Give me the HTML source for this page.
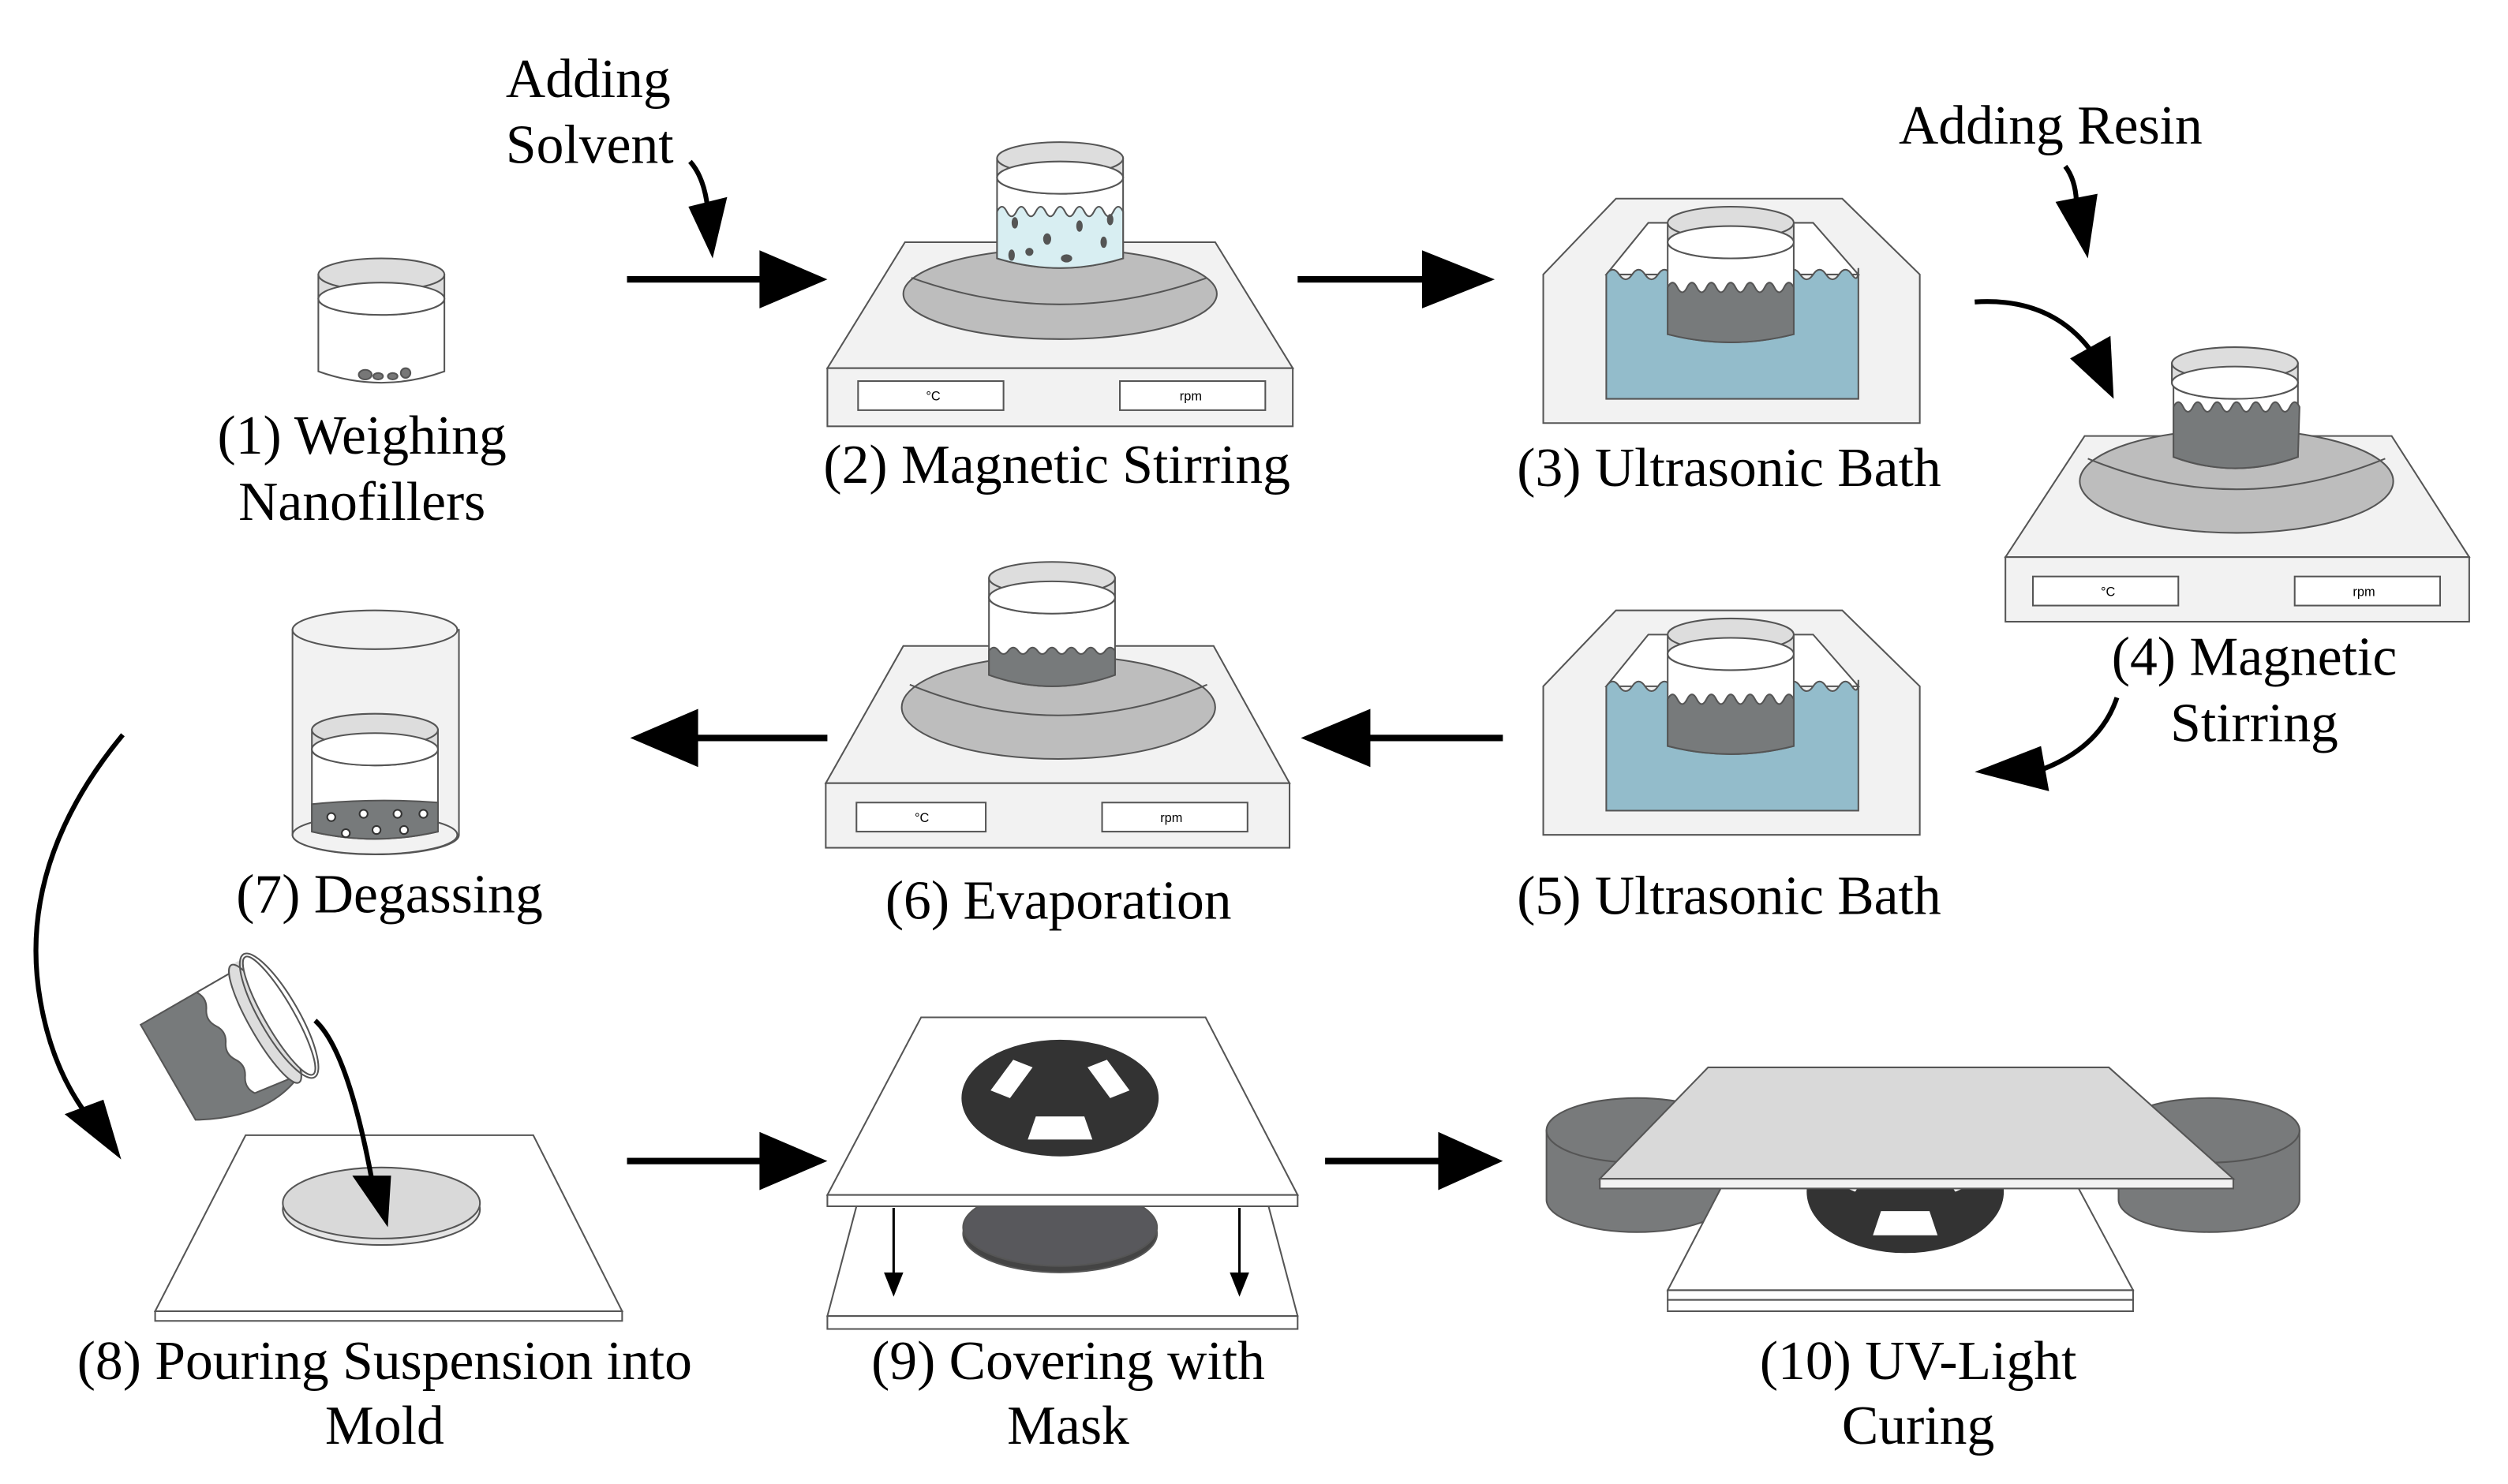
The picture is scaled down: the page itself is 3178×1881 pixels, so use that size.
<!DOCTYPE html>
<html><head><meta charset="utf-8"><style>
html,body{margin:0;padding:0;background:#fff;}
svg{display:block;}
text{font-family:"Liberation Serif",serif;font-size:34px;fill:#000;}
</style></head><body>
<svg width="3178" height="1881" viewBox="0 0 1552 919" preserveAspectRatio="none" xmlns="http://www.w3.org/2000/svg">
<defs>
<g id="mask">
<ellipse cx="0" cy="0" rx="61" ry="38" fill="#333"/>
<polygon points="-43,-5 -29,-25 -17,-20 -31,0" fill="#fff"/>
<polygon points="43,-5 29,-25 17,-20 31,0" fill="#fff"/>
<polygon points="-15,12 15,12 20,27 -20,27" fill="#fff"/>
</g>
</defs>
<g stroke="#555" stroke-width="1">

<!-- (1) beaker -->
<path d="M197,185 L197,230 Q236,244 275,230 L275,185 Z" fill="#fff"/>
<path d="M197,170 L197,185 A39,10 0 0 0 275,185 L275,170 Z" fill="#ddd"/>
<ellipse cx="236" cy="170" rx="39" ry="10" fill="#ddd"/>
<ellipse cx="236" cy="185" rx="39" ry="10" fill="#fff"/>
<g fill="#777"><ellipse cx="226" cy="232" rx="4" ry="3"/><ellipse cx="234" cy="233" rx="3" ry="2"/><ellipse cx="243" cy="233" rx="3" ry="2"/><ellipse cx="251" cy="231" rx="3" ry="3"/></g>

<!-- (2) hotplate -->
<polygon points="560,150 752,150 800,228 512,228" fill="#f2f2f2"/>
<rect x="512" y="228" width="288" height="36" fill="#f2f2f2"/>
<rect x="531" y="236" width="90" height="18" fill="#fff"/>
<rect x="693" y="236" width="90" height="18" fill="#fff"/>
<ellipse cx="656" cy="182" rx="97" ry="28" fill="#bdbdbd"/>
<path d="M564,172 Q656,205 747,172" fill="none"/>
<path d="M617,110 L617,160 Q656,172 695,160 L695,110 Z" fill="#fff"/>
<path d="M617,131 q3,-6 6,0 t6,0 t6,0 t6,0 t6,0 t6,0 t6,0 t6,0 t6,0 t6,0 t6,0 t6,0 t6,0 L695,160 Q656,172 617,160 Z" fill="#d8eef2"/>
<path d="M617,98 L617,110 A39,10 0 0 0 695,110 L695,98 Z" fill="#ddd"/>
<ellipse cx="656" cy="98" rx="39" ry="10" fill="#ddd"/>
<ellipse cx="656" cy="110" rx="39" ry="10" fill="#fff"/>
<g fill="#555"><ellipse cx="628" cy="138" rx="1.5" ry="3"/><ellipse cx="648" cy="148" rx="2" ry="3"/><ellipse cx="668" cy="140" rx="1.5" ry="3"/><ellipse cx="637" cy="156" rx="2" ry="2"/><ellipse cx="660" cy="160" rx="3" ry="2"/><ellipse cx="683" cy="150" rx="1.5" ry="3"/><ellipse cx="687" cy="136" rx="1.5" ry="3"/><ellipse cx="626" cy="158" rx="1.5" ry="3"/></g>

<!-- (3) bath -->
<g id="bath">
<polygon points="1000,123 1140,123 1188,170 1188,262 955,262 955,170" fill="#f2f2f2"/>
<polygon points="1020,138 1122,138 1150,170 994,170" fill="#fff"/>
<path d="M994,170 q4,-6 8,0 t8,0 t8,0 t8,0 t8,0 t8,0 t8,0 t8,0 t8,0 t8,0 t8,0 t8,0 t8,0 t8,0 t8,0 t8,0 t8,0 t8,0 t8,0 t4,-4 L1150,247 L994,247 Z" fill="#93bccb"/>
<path d="M1032,150 L1032,207 Q1071,217 1110,207 L1110,150 Z" fill="#fff"/>
<path d="M1032,178 q3,-6 6,0 t6,0 t6,0 t6,0 t6,0 t6,0 t6,0 t6,0 t6,0 t6,0 t6,0 t6,0 t6,0 L1110,207 Q1071,217 1032,207 Z" fill="#777a7b"/>
<path d="M1032,138 L1032,150 A39,10 0 0 0 1110,150 L1110,138 Z" fill="#ddd"/>
<ellipse cx="1071" cy="138" rx="39" ry="10" fill="#ddd"/>
<ellipse cx="1071" cy="150" rx="39" ry="10" fill="#fff"/>
</g>

<!-- (4) hotplate -->
<polygon points="1290,270 1480,270 1528,345 1241,345" fill="#f2f2f2"/>
<rect x="1241" y="345" width="287" height="40" fill="#f2f2f2"/>
<rect x="1258" y="357" width="90" height="18" fill="#fff"/>
<rect x="1420" y="357" width="90" height="18" fill="#fff"/>
<ellipse cx="1384" cy="298" rx="97" ry="32" fill="#bdbdbd"/>
<path d="M1292,284 Q1384,322 1476,284" fill="none"/>
<path d="M1345,237 L1345,283 Q1383,297 1422,283 L1422,237 Z" fill="#fff"/>
<path d="M1345,252 q3,-6 6,0 t6,0 t6,0 t6,0 t6,0 t6,0 t6,0 t6,0 t6,0 t6,0 t6,0 t6,0 t6,0 L1422,283 Q1383,297 1345,283 Z" fill="#777a7b"/>
<path d="M1344,225 L1344,237 A39,10 0 0 0 1422,237 L1422,225 Z" fill="#ddd"/>
<ellipse cx="1383" cy="225" rx="39" ry="10" fill="#ddd"/>
<ellipse cx="1383" cy="237" rx="39" ry="10" fill="#fff"/>

<!-- (5) bath -->
<use href="#bath" transform="translate(0,255)"/>

<!-- (6) hotplate -->
<polygon points="559,400 751,400 798,485 511,485" fill="#f2f2f2"/>
<rect x="511" y="485" width="287" height="40" fill="#f2f2f2"/>
<rect x="530" y="497" width="80" height="18" fill="#fff"/>
<rect x="682" y="497" width="90" height="18" fill="#fff"/>
<ellipse cx="655" cy="438" rx="97" ry="32" fill="#bdbdbd"/>
<path d="M563,424 Q655,462 747,424" fill="none"/>
<path d="M612,370 L612,418 Q651,432 690,418 L690,370 Z" fill="#fff"/>
<path d="M612,403 q3,-4 6,0 t6,0 t6,0 t6,0 t6,0 t6,0 t6,0 t6,0 t6,0 t6,0 t6,0 t6,0 t6,0 L690,418 Q651,432 612,418 Z" fill="#777a7b"/>
<path d="M612,358 L612,370 A39,10 0 0 0 690,370 L690,358 Z" fill="#ddd"/>
<ellipse cx="651" cy="358" rx="39" ry="10" fill="#ddd"/>
<ellipse cx="651" cy="370" rx="39" ry="10" fill="#fff"/>

<!-- (7) degassing -->
<path d="M181,390 L181,517 A51,12 0 0 0 284,517 L284,390 Z" fill="#f2f2f2"/>
<ellipse cx="232" cy="517" rx="51" ry="12" fill="#f2f2f2"/>
<ellipse cx="232" cy="390" rx="51" ry="12" fill="#f2f2f2"/>
<path d="M193,464 L193,515 Q232,524 271,515 L271,464 Z" fill="#fff"/>
<path d="M193,498 Q232,494 271,497 L271,515 Q232,524 193,515 Z" fill="#777a7b"/>
<path d="M193,452 L193,464 A39,10 0 0 0 271,464 L271,452 Z" fill="#ddd"/>
<ellipse cx="232" cy="452" rx="39" ry="10" fill="#ddd"/>
<ellipse cx="232" cy="464" rx="39" ry="10" fill="#fff"/>
<g fill="#fff" stroke="#333"><circle cx="205" cy="506" r="2.5"/><circle cx="225" cy="504" r="2.5"/><circle cx="246" cy="504" r="2.5"/><circle cx="262" cy="504" r="2.5"/><circle cx="214" cy="516" r="2.5"/><circle cx="233" cy="514" r="2.5"/><circle cx="250" cy="514" r="2.5"/></g>

<!-- (8) mold -->
<polygon points="152,703 330,703 385,812 96,812" fill="#fff"/>
<rect x="96" y="812" width="289" height="6" fill="#fff"/>
<ellipse cx="236" cy="749" rx="61" ry="22" fill="#e5e5e5"/>
<ellipse cx="236" cy="745" rx="61" ry="22" fill="#d9d9d9"/>
<g transform="translate(145,645) rotate(-30)">
<path d="M-45,-38 L-45,30 Q-5,52 25,38 L25,-38 Z" fill="#777a7b"/>
<path d="M-5,-38 q4,6 0,12 t0,12 t0,12 t0,12 t0,12 t0,12 L25,38 L25,-38 Z" fill="#fff"/>
<path d="M20,-42 L20,38 L30,38 L30,-42 Z" fill="#ddd" stroke="none"/>
<ellipse cx="22" cy="0" rx="9" ry="42" fill="#ddd"/>
<ellipse cx="32" cy="0" rx="9" ry="42" fill="#fff"/>
<ellipse cx="32" cy="0" rx="12" ry="44" fill="none"/>
</g>

<!-- (9) -->
<polygon points="530,747 785,747 803,815 512,815" fill="#fff"/>
<rect x="512" y="815" width="291" height="8" fill="#fff"/>
<ellipse cx="656" cy="764" rx="60" ry="24" fill="#444"/>
<ellipse cx="656" cy="760" rx="60" ry="24" fill="#58585c"/>
<polygon points="570,630 746,630 803,740 512,740" fill="#fff"/>
<rect x="512" y="740" width="291" height="7" fill="#fff"/>
<use href="#mask" transform="translate(656,680) scale(1,0.95)" stroke="none"/>

<!-- (10) -->
<path d="M957,700 L957,743 A56,20 0 0 0 1069,743 L1069,700 Z" fill="#787a7b"/>
<ellipse cx="1013" cy="700" rx="56" ry="20" fill="#787a7b"/>
<path d="M1311,700 L1311,743 A56,20 0 0 0 1423,743 L1423,700 Z" fill="#787a7b"/>
<ellipse cx="1367" cy="700" rx="56" ry="20" fill="#787a7b"/>
<polygon points="1069,728 1282,728 1320,799 1032,799" fill="#fff"/>
<rect x="1032" y="799" width="288" height="6" fill="#fff"/>
<rect x="1032" y="805" width="288" height="7" fill="#fff"/>
<use href="#mask" transform="translate(1179,738) scale(1,1)" stroke="none"/>
<polygon points="1057,661 1305,661 1382,730 990,730" fill="#d9d9d9"/>
<rect x="990" y="730" width="392" height="6" fill="#f2f2f2"/>
</g>

<!-- display text -->
<g fill="#333">
<text x="573" y="248" style="font-size:8px;font-family:'Liberation Sans',sans-serif">°C</text>
<text x="730" y="248" style="font-size:8px;font-family:'Liberation Sans',sans-serif">rpm</text>
<text x="1300" y="369" style="font-size:8px;font-family:'Liberation Sans',sans-serif">°C</text>
<text x="1456" y="369" style="font-size:8px;font-family:'Liberation Sans',sans-serif">rpm</text>
<text x="566" y="509" style="font-size:8px;font-family:'Liberation Sans',sans-serif">°C</text>
<text x="718" y="509" style="font-size:8px;font-family:'Liberation Sans',sans-serif">rpm</text>
</g>

<!-- arrows -->
<g fill="#000" stroke="none">
<rect x="388" y="171" width="84" height="4"/><polygon points="470,155 512,173 470,191"/>
<rect x="803" y="171" width="80" height="4"/><polygon points="880,155 925,173 880,191"/>
<rect x="428" y="455" width="84" height="4"/><polygon points="432,439 390,457 432,475"/>
<rect x="845" y="455" width="85" height="4"/><polygon points="848,439 805,457 848,475"/>
<rect x="388" y="717" width="84" height="4"/><polygon points="470,701 512,719 470,737"/>
<rect x="820" y="717" width="72" height="4"/><polygon points="890,701 930,719 890,737"/>
<polygon points="426,128 450,122 441,160"/>
<polygon points="1272,125 1298,120 1292,160"/>
<polygon points="1281,222 1306,208 1308,247"/>
<polygon points="1263,462 1268,490 1222,478"/>
<polygon points="40,690 64,681 75,718"/>
<polygon points="218,728 242,728 240,760"/>
<polygon points="547,788 559,788 553,803"/>
<polygon points="761,788 773,788 767,803"/>
</g>
<g fill="none" stroke="#000" stroke-width="3">
<path d="M427,100 Q436,110 438,130"/>
<path d="M1278,103 Q1285,112 1285,128"/>
<path d="M1222,187 Q1268,184 1293,216"/>
<path d="M1310,432 Q1300,462 1265,476"/>
<path d="M76,455 Q10,535 25,620 Q32,660 52,688"/>
<path d="M195,632 Q215,650 230,730"/>
</g>
<g stroke="#000" stroke-width="1.5"><line x1="553" y1="748" x2="553" y2="790"/><line x1="767" y1="748" x2="767" y2="790"/></g>

<!-- labels -->
<g text-anchor="middle">
<text x="224" y="281">(1) Weighing</text>
<text x="224" y="322">Nanofillers</text>
<text x="654" y="299">(2) Magnetic Stirring</text>
<text x="1070" y="301">(3) Ultrasonic Bath</text>
<text x="1395" y="418">(4) Magnetic</text>
<text x="1395" y="459">Stirring</text>
<text x="1070" y="566">(5) Ultrasonic Bath</text>
<text x="655" y="569">(6) Evaporation</text>
<text x="241" y="565">(7) Degassing</text>
<text x="238" y="854">(8) Pouring Suspension into</text>
<text x="238" y="894">Mold</text>
<text x="661" y="854">(9) Covering with</text>
<text x="661" y="894">Mask</text>
<text x="1187" y="854">(10) UV-Light</text>
<text x="1187" y="894">Curing</text>
</g>
<text x="313" y="60">Adding</text>
<text x="313" y="101">Solvent</text>
<text x="1175" y="89">Adding Resin</text>
</svg>
</body></html>
